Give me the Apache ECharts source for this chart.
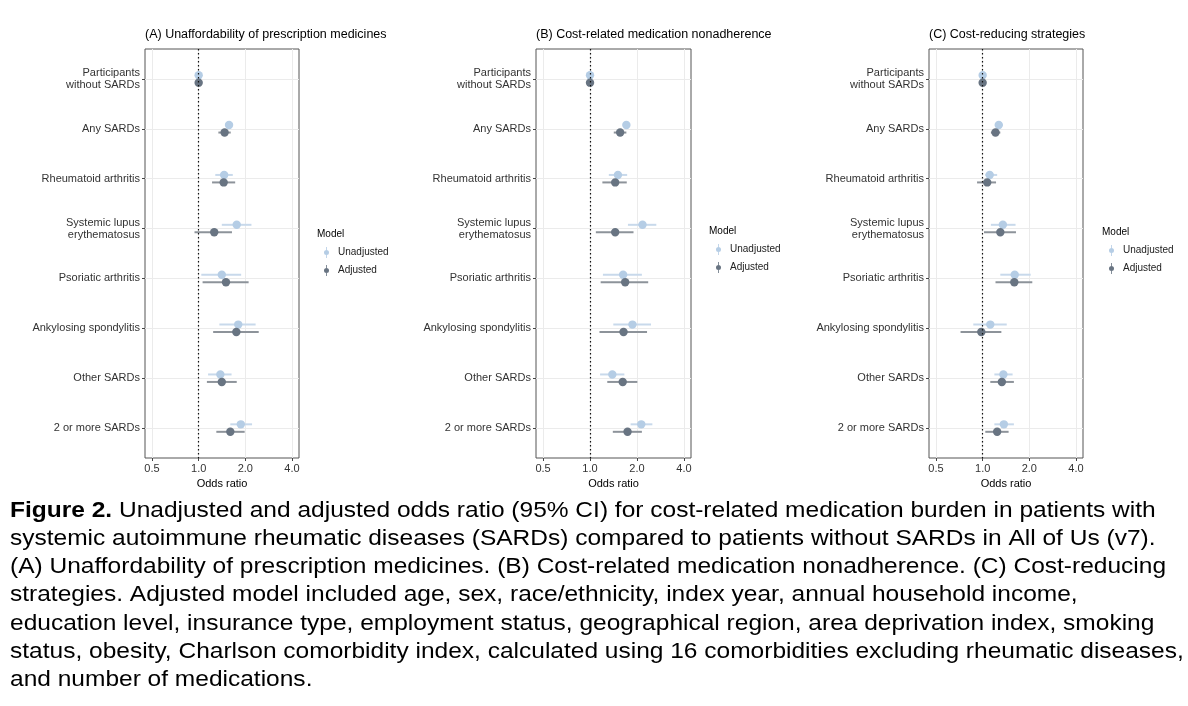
<!DOCTYPE html>
<html>
<head>
<meta charset="utf-8">
<script src="https://cdn.jsdelivr.net/npm/echarts@6/dist/echarts.min.js"></script>
<style>
html,body{margin:0;padding:0;background:#fff;}
#chart{width:1188px;height:706px;}
</style>
</head>
<body>
<div id="chart"></div>
<script>
// ---------------- data ----------------
const categories = ['Participants\nwithout SARDs','Any SARDs','Rheumatoid arthritis','Systemic lupus\nerythematosus','Psoriatic arthritis','Ankylosing spondylitis','Other SARDs','2 or more SARDs'];
const panelTitles = ['(A) Unaffordability of prescription medicines','(B) Cost-related medication nonadherence','(C) Cost-reducing strategies'];
const xTicks = [0.5, 1, 2, 4];
const modelNames = ['Unadjusted', 'Adjusted'];
const xAxisTitle = 'Odds ratio';
const legendTitle = 'Model';

// [odds ratio, lower 95% CI, upper 95% CI] per category
const unadjA = [[1,0.98,1.02],[1.57,1.50,1.65],[1.46,1.28,1.66],[1.76,1.41,2.19],[1.41,1.04,1.88],[1.80,1.36,2.33],[1.38,1.15,1.63],[1.87,1.60,2.21]];
const adjA   = [[1,0.98,1.02],[1.47,1.34,1.61],[1.45,1.22,1.72],[1.26,0.94,1.64],[1.50,1.06,2.10],[1.75,1.24,2.44],[1.41,1.13,1.76],[1.60,1.30,1.98]];
const unadjB = [[1,0.98,1.02],[1.71,1.62,1.80],[1.51,1.32,1.73],[2.17,1.75,2.66],[1.63,1.21,2.15],[1.87,1.41,2.46],[1.39,1.16,1.66],[2.13,1.82,2.51]];
const adjB   = [[1,0.98,1.02],[1.56,1.42,1.71],[1.45,1.20,1.72],[1.45,1.09,1.90],[1.68,1.17,2.36],[1.64,1.15,2.32],[1.62,1.29,2.01],[1.74,1.40,2.15]];
const unadjC = [[1,0.98,1.02],[1.27,1.20,1.35],[1.11,1.04,1.24],[1.35,1.13,1.63],[1.61,1.30,2.04],[1.12,0.87,1.43],[1.36,1.19,1.56],[1.37,1.19,1.59]];
const adjC   = [[1,0.98,1.02],[1.21,1.13,1.30],[1.07,0.92,1.22],[1.30,1.02,1.64],[1.60,1.21,2.09],[0.98,0.72,1.32],[1.33,1.12,1.59],[1.24,1.04,1.47]];

const captionLines = [
  ' Unadjusted and adjusted odds ratio (95% CI) for cost-related medication burden in patients with',
  'systemic autoimmune rheumatic diseases (SARDs) compared to patients without SARDs in All of Us (v7).',
  '(A) Unaffordability of prescription medicines. (B) Cost-related medication nonadherence. (C) Cost-reducing',
  'strategies. Adjusted model included age, sex, race/ethnicity, index year, annual household income,',
  'education level, insurance type, employment status, geographical region, area deprivation index, smoking',
  'status, obesity, Charlson comorbidity index, calculated using 16 comorbidities excluding rheumatic diseases,',
  'and number of medications.'
];
const captionBold = 'Figure 2.';

// ---------------- layout / style ----------------
const FONT = 'Liberation Sans, Arial, Helvetica, sans-serif';
const panels = [
  {left: 145, width: 154, unadj: unadjA, adj: adjA, legendLeft: 317, legendTop: 229},
  {left: 536, width: 155, unadj: unadjB, adj: adjB, legendLeft: 709, legendTop: 226},
  {left: 929, width: 154, unadj: unadjC, adj: adjC, legendLeft: 1102, legendTop: 227}
];
const gridTop = 49, gridHeight = 409;
const styles = {
  Unadjusted: {point: '#B5CDE5', line: '#C8D9EB', offset: -0.075},
  Adjusted:   {point: '#687482', line: '#8D939A', offset: 0.075}
};
const yPositions = categories.map((c, i) => i + 1);
const xMin = Math.pow(2, -1.15), xMax = Math.pow(2, 2.15);

function makeRender(model) {
  const st = styles[model];
  return function (params, api) {
    const y = api.value(3) + st.offset;
    const c = api.coord([api.value(0), y]);
    const l = api.coord([api.value(1), y]);
    const h = api.coord([api.value(2), y]);
    return {
      type: 'group',
      children: [
        {type: 'line', shape: {x1: l[0], y1: l[1], x2: h[0], y2: h[1]}, style: {stroke: st.line, lineWidth: 2}},
        {type: 'circle', shape: {cx: c[0], cy: c[1], r: 4.2}, style: {fill: st.point}}
      ]
    };
  };
}

const legendIcon = 'path://M2.1,0H2.9V11H2.1Z M5,5.5A2.5,2.5,0,1,1,0,5.5A2.5,2.5,0,1,1,5,5.5Z';

const option = {
  backgroundColor: '#fff',
  animation: false,
  textStyle: {fontFamily: FONT},
  title: [],
  legend: [],
  grid: [],
  xAxis: [],
  yAxis: [],
  series: [],
  graphic: []
};

panels.forEach((p, k) => {
  option.grid.push({left: p.left, width: p.width, top: gridTop, height: gridHeight, show: true,
    borderColor: '#555', borderWidth: 1, backgroundColor: 'transparent', containLabel: false});
  option.xAxis.push({
    type: 'log', logBase: 2, gridIndex: k, min: xMin, max: xMax,
    name: xAxisTitle, nameLocation: 'middle', nameGap: 15,
    nameTextStyle: {fontSize: 11, color: '#000', fontFamily: FONT},
    axisLine: {show: false},
    axisTick: {show: true, length: 3, lineStyle: {color: '#444'}, customValues: xTicks},
    axisLabel: {customValues: xTicks, fontSize: 11, color: '#333', margin: 5,
      formatter: v => Number(v).toFixed(1)},
    splitLine: {show: true, lineStyle: {color: '#EBEBEB', width: 1}},
    minorSplitLine: {show: false}
  });
  option.yAxis.push({
    type: 'value', gridIndex: k, min: 0.4, max: 8.6, inverse: true,
    axisLine: {show: false},
    axisTick: {show: true, length: 3, lineStyle: {color: '#444'}, customValues: yPositions},
    axisLabel: {customValues: yPositions, fontSize: 11, color: '#333', margin: 5, lineHeight: 12, align: 'right',
      formatter: v => categories[Math.round(v) - 1]},
    splitLine: {show: true, lineStyle: {color: '#EBEBEB', width: 1}}
  });
  modelNames.forEach((m, j) => {
    const src = m === 'Unadjusted' ? p.unadj : p.adj;
    const s = {
      type: 'custom', name: m, xAxisIndex: k, yAxisIndex: k,
      itemStyle: {color: styles[m].point},
      encode: {x: [0, 1, 2], y: 3},
      data: src.map((d, i) => [d[0], d[1], d[2], yPositions[i]]),
      renderItem: makeRender(m),
      z: 3 + j
    };
    if (j === 0) {
      s.markLine = {
        silent: true, symbol: 'none', label: {show: false},
        lineStyle: {color: '#111', type: [1.5, 2.5], width: 1.2},
        data: [{xAxis: 1}]
      };
    }
    option.series.push(s);
  });
  option.title.push({
    text: panelTitles[k], left: p.left, top: 28, padding: 0,
    textStyle: {fontSize: 12.5, fontWeight: 'normal', color: '#000', fontFamily: FONT}
  });
  option.title.push({
    text: legendTitle, left: p.legendLeft, top: p.legendTop, padding: 0,
    textStyle: {fontSize: 10, fontWeight: 'normal', color: '#000', fontFamily: FONT}
  });
  option.legend.push({
    orient: 'vertical', left: p.legendLeft + 7, top: p.legendTop + 18, padding: 0,
    itemWidth: 5, itemHeight: 11, itemGap: 7,
    selectedMode: false,
    textStyle: {fontSize: 10, color: '#222', fontFamily: FONT, padding: [0, 0, 0, 4]},
    data: modelNames.map(m => ({name: m, icon: legendIcon, itemStyle: {color: styles[m].point}}))
  });
});

// caption (stretched horizontally like the reference rendering)
option.graphic.push({
  type: 'text', x: 10, y: 497, scaleX: 1.114, scaleY: 1, silent: true,
  style: {
    text: '{b|' + captionBold + '}{n|' + captionLines[0] + '}\n' +
          captionLines.slice(1).map(l => '{n|' + l + '}').join('\n'),
    fontSize: 22, fontFamily: FONT, fill: '#000', lineHeight: 28.1,
    rich: {
      b: {fontSize: 22, fontWeight: 'bold', fill: '#000', fontFamily: FONT, lineHeight: 28.1},
      n: {fontSize: 22, fontWeight: 'normal', fill: '#000', fontFamily: FONT, lineHeight: 28.1}
    }
  }
});

const chart = echarts.init(document.getElementById('chart'), null, {renderer: 'canvas'});
chart.setOption(option);
</script>
</body>
</html>
